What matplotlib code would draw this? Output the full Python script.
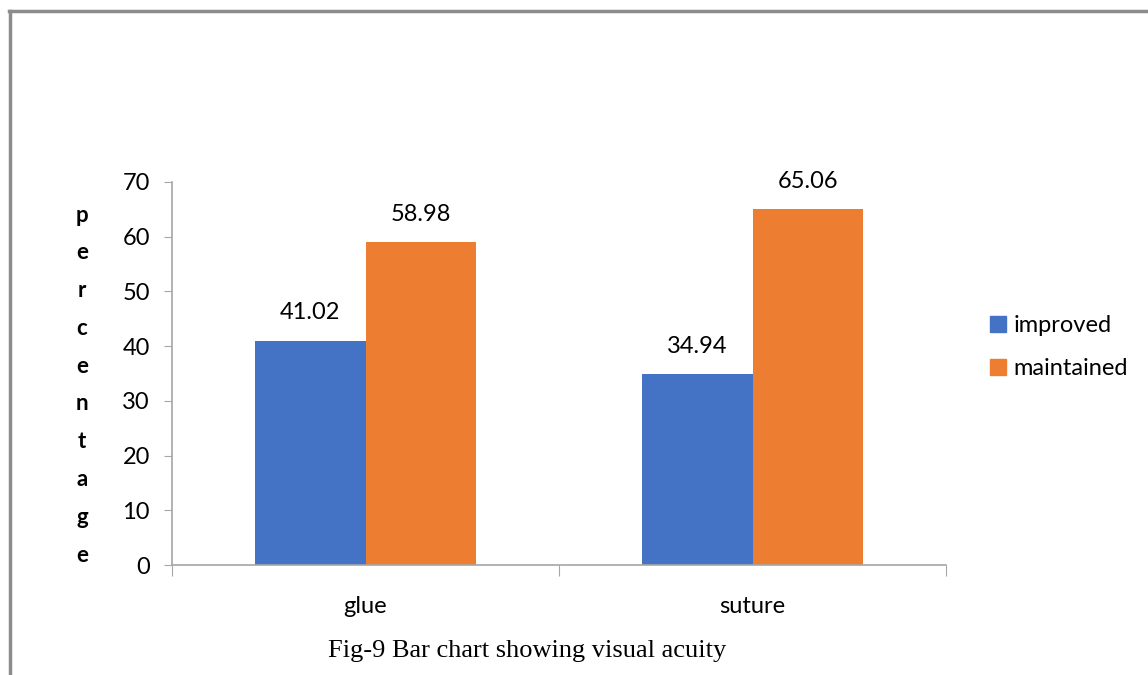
import numpy as np
import matplotlib.pyplot as plt
from matplotlib.lines import Line2D

groups = ['glue', 'suture']
improved = [41.02, 34.94]
maintained = [58.98, 65.06]
series_names = ['improved', 'maintained']
yticks = [0, 10, 20, 30, 40, 50, 60, 70]
ylabel = 'percentage'

blue = '#4472c4'
orange = '#ed7d31'
axis_grey = '#a6a6a6'

plt.rcParams['font.family'] = ['Lato', 'DejaVu Sans']

fig = plt.figure(figsize=(11.48, 6.75), dpi=100)
ax = fig.add_axes([172 / 1148, 1 - 565 / 675, (946 - 172) / 1148, (565 - 182) / 675])

x = np.arange(len(groups))
w = 0.285
b1 = ax.bar(x - w / 2, improved, w, color=blue, label=series_names[0])
b2 = ax.bar(x + w / 2, maintained, w, color=orange, label=series_names[1])

for bars, vals in ((b1, improved), (b2, maintained)):
    for rect, v in zip(bars, vals):
        ax.annotate(f'{v:.2f}', (rect.get_x() + rect.get_width() / 2, v),
                    xytext=(0, 20), textcoords='offset points',
                    ha='center', va='center', fontsize=17, color='#000000')

ax.set_xlim(-0.5, 1.5)
ax.set_ylim(0, 70)
ax.set_yticks(yticks)
ax.tick_params(axis='y', labelsize=17, length=6, color=axis_grey, pad=10)

# category boundaries get the tick marks, names sit between them
ax.set_xticks([-0.5, 0.5, 1.5])
ax.set_xticklabels([])
ax.tick_params(axis='x', length=8, color=axis_grey)
for i, g in enumerate(groups):
    ax.text(i, -7.5, g, ha='center', va='center', fontsize=17)

for side in ('top', 'right'):
    ax.spines[side].set_visible(False)
for side in ('left', 'bottom'):
    ax.spines[side].set_color(axis_grey)
    ax.spines[side].set_linewidth(1.2)

handles = [Line2D([], [], marker='s', linestyle='none', markersize=11, color=c)
           for c in (blue, orange)]
fig.legend(handles, series_names, loc='center left', bbox_to_anchor=(989 / 1148, 1 - 347 / 675),
           frameon=False, fontsize=17, handletextpad=0.25, labelspacing=0.95,
           handlelength=0.8, borderpad=0, borderaxespad=0)

# stacked vertical axis title, one letter per row
letter_y = np.linspace(215, 555, len(ylabel))
for ch, yy in zip(ylabel, letter_y):
    fig.text(82 / 1148, 1 - yy / 675, ch, ha='center', va='center',
             fontsize=16, fontweight='bold')

fig.text(527 / 1148, 1 - 651 / 675, 'Fig-9 Bar chart showing visual acuity',
         ha='center', va='center', fontsize=19, family='Liberation Serif')

# page frame (left and top edges only)
fig.add_artist(Line2D([10 / 1148, 10 / 1148], [0, 1 - 11 / 675], transform=fig.transFigure,
                      color='#8c8c8c', linewidth=2.5))
fig.add_artist(Line2D([9 / 1148, 1], [1 - 11 / 675, 1 - 11 / 675], transform=fig.transFigure,
                      color='#8c8c8c', linewidth=2.5))

fig.savefig('out.png', dpi=100)
